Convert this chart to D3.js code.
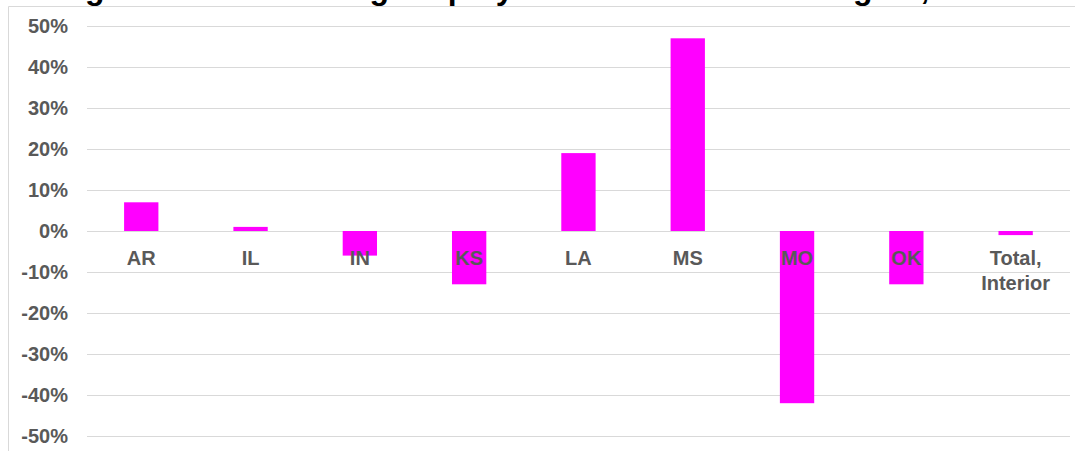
<!DOCTYPE html>
<html>
<head>
<meta charset="utf-8">
<script src="https://d3js.org/d3.v7.min.js"></script>
<style>
  html, body { margin: 0; padding: 0; background: #fff; }
  svg { display: block; font-family: "Liberation Sans", Arial, sans-serif; }
  .grid line { stroke: #d9d9d9; stroke-width: 1px; shape-rendering: crispEdges; }
  .tick-label, .cat-label { fill: #595959; font-weight: bold; font-size: 20px; }
  .title { fill: #000; font-weight: bold; font-size: 32px; }
</style>
</head>
<body>
<svg id="chart" width="1075" height="451"></svg>
<script>
// data
const states = ["AR", "IL", "IN", "KS", "LA", "MS", "MO", "OK", "Total, Interior"];
const change = [0.07, 0.01, -0.06, -0.13, 0.19, 0.47, -0.42, -0.13, -0.01];
const yTicks = [0.5, 0.4, 0.3, 0.2, 0.1, 0, -0.1, -0.2, -0.3, -0.4, -0.5];
const title = "Change in Manufacturing Employment in the Interior Region, 2019-2020";

const width = 1075, height = 451;
const svg = d3.select("#chart");

// title is mostly off the top edge (as in the source picture), only descenders show
svg.append("text")
    .attr("class", "title")
    .attr("x", 5)
    .attr("y", -1)
    .text(title);

// chart area border (left and top edges visible)
svg.append("line")
    .attr("x1", 8.5).attr("x2", 8.5).attr("y1", 6.5).attr("y2", height)
    .style("stroke", "#d9d9d9");
svg.append("line")
    .attr("x1", 8.5).attr("x2", width).attr("y1", 6.5).attr("y2", 6.5)
    .style("stroke", "#d9d9d9");

const x = d3.scaleBand()
    .domain(states)
    .range([86.6, 1070.3])
    .padding(0);

const y = d3.scaleLinear()
    .domain([-0.5, 0.5])
    .range([436, 26]);

// gridlines
const grid = svg.append("g").attr("class", "grid");
grid.selectAll("line")
    .data(yTicks)
    .join("line")
    .attr("x1", 86.6)
    .attr("x2", 1070)
    .attr("y1", d => Math.round(y(d)) + 0.5)
    .attr("y2", d => Math.round(y(d)) + 0.5);

// y tick labels, plain hyphen for negatives like the original
const pct = d => d3.format(".0%")(d).replace("\u2212", "-");
svg.append("g").selectAll("text")
    .data(yTicks)
    .join("text")
    .attr("class", "tick-label")
    .attr("x", 68)
    .attr("y", d => y(d))
    .attr("dy", "0.35em")
    .attr("text-anchor", "end")
    .text(pct);

// bars
const barW = x.bandwidth() * 0.314;
svg.append("g").selectAll("rect")
    .data(states)
    .join("rect")
    .attr("x", d => x(d) + (x.bandwidth() - barW) / 2)
    .attr("width", barW)
    .attr("y", (d, i) => y(Math.max(0, change[i])))
    .attr("height", (d, i) => Math.abs(y(change[i]) - y(0)))
    .style("fill", "#ff00ff");

// category labels sit just under the zero line, on top of the bars
const labels = svg.append("g").selectAll("text")
    .data(states)
    .join("text")
    .attr("class", "cat-label")
    .attr("text-anchor", "middle")
    .attr("x", d => x(d) + x.bandwidth() / 2)
    .attr("y", y(0) + 34);

labels.each(function(d) {
    const parts = d.split(" ");
    const t = d3.select(this);
    parts.forEach((p, j) => {
        t.append("tspan")
            .attr("x", x(d) + x.bandwidth() / 2)
            .attr("dy", j === 0 ? 0 : 25)
            .text(p);
    });
});
</script>
</body>
</html>
